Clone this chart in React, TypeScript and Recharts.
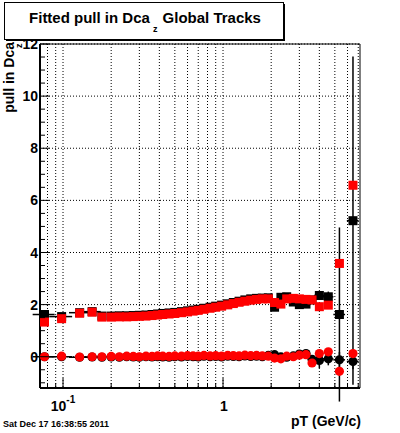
import React from "react";
import {
  ScatterChart,
  Scatter,
  XAxis,
  YAxis,
  CartesianGrid,
  ErrorBar,
  ReferenceArea,
} from "recharts";

const FONT = '"Liberation Sans", Arial, Helvetica, sans-serif';

// pT bin centres (GeV/c)
const ptBins = [
  0.0766, 0.098, 0.127, 0.152, 0.175, 0.2, 0.225, 0.25, 0.275, 0.3, 0.33, 0.36,
  0.39, 0.42, 0.46, 0.5, 0.55, 0.6, 0.65, 0.7, 0.76, 0.83, 0.9, 0.98, 1.07, 1.16,
  1.26, 1.37, 1.49, 1.62, 1.76, 1.92, 2.1, 2.3, 2.5, 2.75, 3.0, 3.3, 3.6, 4.0,
  4.55, 5.34, 6.49,
];

// sigma of the pull (squares)
const blackSquareVals = [
  1.62, 1.54, 1.69, 1.73, 1.56, 1.56, 1.57, 1.57, 1.58, 1.59, 1.6, 1.62, 1.64,
  1.66, 1.68, 1.7, 1.73, 1.76, 1.79, 1.82, 1.86, 1.9, 1.94, 1.98, 2.03, 2.08,
  2.13, 2.18, 2.22, 2.24, 2.25, 2.26, 1.9, 2.28, 2.3, 2.1, 2.0, 2.02, 2.18, 2.35,
  2.3, 1.62, 5.22,
];
const redSquareVals = [
  1.33, 1.46, 1.67, 1.71, 1.52, 1.52, 1.53, 1.53, 1.54, 1.55, 1.56, 1.58, 1.6,
  1.62, 1.64, 1.66, 1.69, 1.72, 1.75, 1.78, 1.82, 1.86, 1.9, 1.94, 1.99, 2.04,
  2.09, 2.13, 2.17, 2.2, 2.22, 2.22, 2.08, 2.02, 2.22, 2.24, 2.22, 2.2, 2.18,
  1.92, 1.98, 3.58, 6.58,
];

// mean of the pull (circles)
const blackCircleVals = [
  0.0, 0.0, -0.02, -0.01, -0.02, -0.01, -0.02, 0.0, -0.01, -0.02, 0.0, -0.01,
  0.0, -0.01, -0.02, 0.0, -0.01, 0.01, 0.0, -0.01, 0.02, 0.0, 0.01, -0.01, 0.02,
  0.01, 0.0, 0.03, 0.01, 0.02, 0.0, 0.05, 0.08, 0.0, -0.02, 0.03, 0.1, 0.12,
  -0.1, -0.14, -0.08, -0.12, -0.18,
];
const redCircleVals = [
  0.0, 0.02, -0.01, 0.0, 0.0, 0.01, 0.0, 0.02, 0.01, 0.0, 0.02, 0.01, 0.03, 0.02,
  0.01, 0.03, 0.02, 0.04, 0.03, 0.02, 0.05, 0.03, 0.04, 0.02, 0.05, 0.04, 0.03,
  0.06, 0.04, 0.05, 0.03, 0.02, -0.05, -0.08, 0.02, 0.0, 0.06, 0.08, -0.24,
  0.12, 0.19, -0.56, 0.12,
];

// errors on the black points
const blackPtErr = [
  0.012, 0.016, 0.018, 0.02, 0, 0, 0, 0, 0, 0, 0, 0, 0, 0, 0, 0, 0, 0, 0, 0, 0,
  0, 0, 0, 0, 0, 0, 0, 0, 0, 0, 0, 0, 0, 0, 0, 0, 0, 0, 0.3, 0.35, 0.45, 0.55,
];
const blackSquareErr = [
  0.05, 0.05, 0.05, 0.05, 0, 0, 0, 0, 0, 0, 0, 0, 0, 0, 0, 0, 0, 0, 0, 0, 0, 0,
  0, 0, 0, 0, 0, 0, 0, 0, 0, 0, 0, 0, 0, 0, 0, 0, 0, 0.15, 0.2, 3.34, 6.3,
];
const blackCircleErr = [
  0.03, 0.03, 0.03, 0.03, 0, 0, 0, 0, 0, 0, 0, 0, 0, 0, 0, 0, 0, 0, 0, 0, 0, 0,
  0, 0, 0, 0, 0, 0, 0, 0, 0, 0, 0, 0, 0, 0, 0, 0, 0, 0.3, 0.25, 0.3, 0.3,
];

const xTicks = [0.08, 0.09, 0.1, 0.2, 0.3, 0.4, 0.5, 0.6, 0.7, 0.8, 0.9, 1, 2, 3, 4, 5, 6, 7];
const yTicks = [
  -1, -0.5, 0, 0.5, 1, 1.5, 2, 2.5, 3, 3.5, 4, 4.5, 5, 5.5, 6, 6.5, 7, 7.5, 8,
  8.5, 9, 9.5, 10, 10.5, 11, 11.5, 12,
];
const yGrid = [0, 2, 4, 6, 8, 10, 12];
const xDomain = [0.0718, 7.18];
const yDomain = [-1.2, 12];

const blackSquares = ptBins.map((pt, i) => ({
  pt,
  v: blackSquareVals[i],
  ex: blackPtErr[i],
  ey: blackSquareErr[i],
}));
const blackCircles = ptBins.map((pt, i) => ({
  pt,
  v: blackCircleVals[i],
  ex: blackPtErr[i],
  ey: blackCircleErr[i],
}));
const redSquares = ptBins.map((pt, i) => ({ pt, v: redSquareVals[i] }));
const redCircles = ptBins.map((pt, i) => ({ pt, v: redCircleVals[i] }));

const squareShape = (fill: string) => (p: any) =>
  <rect x={p.cx - 4.5} y={p.cy - 4.5} width={9} height={9} fill={fill} />;
const circleShape = (fill: string) => (p: any) =>
  <circle cx={p.cx} cy={p.cy} r={4.6} fill={fill} />;

function XTick(props: any) {
  const { x, y, payload } = props;
  const v = payload.value;
  const major = v === 0.1 || v === 1;
  return (
    <g>
      <line x1={x} x2={x} y1={y} y2={y - (major ? 10 : 5)} stroke="#000" />
      {v === 0.1 && (
        <text x={x} y={y + 23} textAnchor="middle" fontFamily={FONT} fontWeight="bold" fontSize={14} fill="#000">
          10
          <tspan dy={-8} fontSize={10}>-1</tspan>
        </text>
      )}
      {v === 1 && (
        <text x={x + 1} y={y + 23} textAnchor="middle" fontFamily={FONT} fontWeight="bold" fontSize={14} fill="#000">
          1
        </text>
      )}
    </g>
  );
}

function YTick(props: any) {
  const { x, y, payload } = props;
  const v = payload.value;
  const major = v % 2 === 0;
  return (
    <g>
      <line x1={x} x2={x + (major ? 9.5 : 5)} y1={y} y2={y} stroke="#000" />
      {major && (
        <text x={x - 2} y={y} dy="0.36em" textAnchor="end" fontFamily={FONT} fontWeight="bold" fontSize={14} fill="#000">
          {v}
        </text>
      )}
    </g>
  );
}

export default function App() {
  return (
    <div style={{ position: "absolute", left: 0, top: 0, width: 400, height: 433, background: "#fff" }}>
      <ScatterChart width={400} height={433} margin={{ top: 44, right: 40, bottom: 0, left: 0 }}>
        <CartesianGrid
          stroke="#000"
          strokeDasharray="1 2"
          horizontalValues={yGrid}
          verticalValues={xTicks}
        />
        <XAxis
          type="number"
          dataKey="pt"
          scale="log"
          domain={xDomain}
          allowDataOverflow
          ticks={xTicks}
          interval={0}
          height={45}
          tickSize={0}
          tickMargin={0}
          axisLine={{ stroke: "#000", strokeWidth: 2 }}
          tick={(p: any) => <XTick {...p} />}
        />
        <YAxis
          type="number"
          dataKey="v"
          domain={yDomain}
          allowDataOverflow
          ticks={yTicks}
          interval={0}
          width={40}
          tickSize={0}
          tickMargin={0}
          axisLine={{ stroke: "#000", strokeWidth: 2 }}
          tick={(p: any) => <YTick {...p} />}
        />
        <ReferenceArea
          x1={xDomain[0]}
          x2={xDomain[1]}
          y1={yDomain[0]}
          y2={yDomain[1]}
          fill="none"
          stroke="#000"
          ifOverflow="visible"
        />
        <Scatter data={blackSquares} shape={squareShape("#000")} isAnimationActive={false}>
          <ErrorBar dataKey="ex" direction="x" width={0} stroke="#000" isAnimationActive={false} />
          <ErrorBar dataKey="ey" direction="y" width={0} stroke="#000" isAnimationActive={false} />
        </Scatter>
        <Scatter data={blackCircles} shape={circleShape("#000")} isAnimationActive={false}>
          <ErrorBar dataKey="ex" direction="x" width={0} stroke="#000" isAnimationActive={false} />
          <ErrorBar dataKey="ey" direction="y" width={0} stroke="#000" isAnimationActive={false} />
        </Scatter>
        <Scatter data={redSquares} shape={squareShape("#ff0000")} isAnimationActive={false} />
        <Scatter data={redCircles} shape={circleShape("#ff0000")} isAnimationActive={false} />
      </ScatterChart>
      <svg
        width={400}
        height={433}
        style={{ position: "absolute", left: 0, top: 0, pointerEvents: "none" }}
      >
        <rect x={4.5} y={2.5} width={279} height={37} fill="#fff" stroke="#000" />
        <line x1={284.5} x2={284.5} y1={4} y2={41} stroke="#000" />
        <line x1={6} x2={285} y1={40.5} y2={40.5} stroke="#000" />
        <text x={145} y={23} textAnchor="middle" fontFamily={FONT} fontWeight="bold" fontSize={15} fill="#000">
          Fitted pull in Dca
          <tspan dx={3} dy={8.5} fontSize={9}>z</tspan>
          <tspan dx={1} dy={-8.5}> Global Tracks</tspan>
        </text>
        <text transform="translate(13.5,42) rotate(-90)" textAnchor="end" fontFamily={FONT} fontWeight="bold" fontSize={14} fill="#000">
          pull in Dca
        </text>
        <text transform="translate(22,48) rotate(-90)" fontFamily={FONT} fontWeight="bold" fontSize={9} fill="#000">
          z
        </text>
        <text x={361} y={426} textAnchor="end" fontFamily={FONT} fontWeight="bold" fontSize={14} fill="#000">
          pT (GeV/c)
        </text>
        <text x={3} y={427} fontFamily={FONT} fontWeight="bold" fontSize={9} fill="#000">
          Sat Dec 17 16:38:55 2011
        </text>
      </svg>
    </div>
  );
}
